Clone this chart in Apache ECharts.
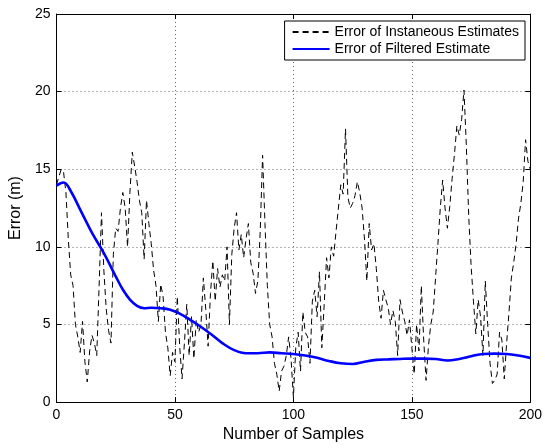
<!DOCTYPE html>
<html>
<head>
<meta charset="utf-8">
<script src="https://cdn.jsdelivr.net/npm/echarts@6/dist/echarts.min.js"></script>
<style>
html,body{margin:0;padding:0;background:#fff;}
#c{width:545px;height:448px;}
</style>
</head>
<body>
<div id="c"></div>
<script>
// Error of instantaneous estimates, one value per sample 0..200
const instantaneous = [
14.0,14.5,15.0,14.8,13.5,10.5,8.2,7.5,5.0,4.2,
3.2,5.2,2.6,1.3,3.3,4.3,3.8,3.0,7.5,12.2,
8.5,6.0,4.6,3.8,9.5,11.2,11.0,12.5,13.5,12.5,
10.0,13.5,16.1,15.2,14.2,13.0,12.2,9.2,13.0,11.5,
10.2,8.5,7.5,5.2,7.6,6.8,4.5,3.5,1.7,3.2,
2.6,6.8,3.6,1.5,3.8,6.3,3.0,5.5,2.8,5.3,
4.5,5.0,8.0,6.0,3.6,7.0,9.1,6.5,8.6,7.4,
8.2,7.8,10.0,5.0,9.5,11.2,12.2,9.8,10.8,9.3,
10.5,11.5,9.0,8.3,7.0,7.8,11.0,15.9,11.5,7.5,
5.0,4.2,2.5,1.8,0.7,2.0,2.3,3.0,4.2,2.8,
0.3,3.5,4.5,2.0,5.8,4.5,4.2,2.5,6.5,7.2,
5.5,8.4,3.5,6.3,9.3,8.0,10.0,9.4,11.0,12.5,
14.0,13.4,17.6,13.2,12.5,12.8,13.3,14.2,13.5,12.5,
10.5,7.8,11.5,9.8,10.2,8.6,6.5,5.4,7.2,6.6,
6.1,5.0,5.9,5.2,3.0,6.6,5.8,5.2,4.3,5.3,
3.5,1.8,5.0,3.3,7.5,4.0,1.4,3.6,5.0,5.8,
8.0,10.2,12.5,14.3,12.5,11.2,12.6,14.4,16.0,17.8,
17.2,18.2,20.1,16.5,12.0,8.8,6.5,4.4,6.6,5.5,
3.0,7.8,5.0,2.5,1.2,1.4,1.8,4.5,4.0,1.5,
3.8,5.8,8.0,9.0,10.2,11.8,12.8,14.2,16.9,15.5,
15.0
];
// Error of filtered estimate, read at selected samples
const filteredX = [0,3,6,10,15,20,25,28,31,34,37,40,44,48,52,56,60,65,70,75,80,85,90,95,100,105,110,115,120,125,130,135,140,145,150,155,160,165,170,175,180,185,190,195,200];
const filteredY = [13.95,14.15,13.6,12.4,10.9,9.6,8.1,7.25,6.6,6.2,6.05,6.08,6.05,5.95,5.7,5.35,4.95,4.4,3.8,3.35,3.15,3.15,3.2,3.15,3.1,3.0,2.85,2.65,2.5,2.45,2.6,2.72,2.75,2.78,2.8,2.8,2.78,2.68,2.78,2.95,3.1,3.12,3.1,3.0,2.85];
const xTicks = [0,50,100,150,200];
const yTicks = [0,5,10,15,20,25];
const seriesNames = ['Error of Instaneous Estimates','Error of Filtered Estimate'];

const font = 'Liberation Sans, Arial, Helvetica, sans-serif';
const chart = echarts.init(document.getElementById('c'), null, {renderer:'canvas'});

const gridLine = {show:true, lineStyle:{color:'#666', type:[1,3], width:1}};
const axisLineBlack = {show:true, onZero:false, lineStyle:{color:'#000', width:1}};

chart.setOption({
  animation:false,
  backgroundColor:'#fff',
  grid:{left:50, right:12, top:14, bottom:43, containLabel:false},
  legend:{
    right:20, top:21, orient:'vertical',
    backgroundColor:'#fff', borderColor:'#000', borderWidth:1, borderRadius:0,
    padding:[4,6,4,7], itemWidth:37, itemHeight:14, itemGap:3,
    itemStyle:{opacity:0, color:'rgba(0,0,0,0)', borderWidth:0},
    textStyle:{fontFamily:font, fontSize:14, color:'#000'},
    data:seriesNames
  },
  xAxis:[{
    type:'value', min:xTicks[0], max:xTicks[xTicks.length-1], interval:50,
    position:'bottom',
    name:'Number of Samples', nameLocation:'middle', nameGap:24,
    nameTextStyle:{fontFamily:font, fontSize:16, color:'#000'},
    axisLine:axisLineBlack,
    axisTick:{show:true, inside:true, length:5, lineStyle:{color:'#000'}},
    axisLabel:{fontFamily:font, fontSize:14, color:'#000', margin:6},
    splitLine:gridLine
  },{
    type:'value', min:0, max:200, interval:50, position:'top',
    axisLine:axisLineBlack,
    axisTick:{show:true, inside:true, length:5, lineStyle:{color:'#000'}},
    axisLabel:{show:false}, splitLine:{show:false}
  }],
  yAxis:[{
    type:'value', min:yTicks[0], max:yTicks[yTicks.length-1], interval:5,
    position:'left',
    name:'Error (m)', nameLocation:'middle', nameGap:30,
    nameTextStyle:{fontFamily:font, fontSize:16, color:'#000'},
    axisLine:axisLineBlack,
    axisTick:{show:true, inside:true, length:5, lineStyle:{color:'#000'}},
    axisLabel:{fontFamily:font, fontSize:14, color:'#000', margin:6},
    splitLine:gridLine
  },{
    type:'value', min:0, max:25, interval:5, position:'right',
    axisLine:axisLineBlack,
    axisTick:{show:true, inside:true, length:5, lineStyle:{color:'#000'}},
    axisLabel:{show:false}, splitLine:{show:false}
  }],
  series:[{
    name:seriesNames[0], type:'line', xAxisIndex:0, yAxisIndex:0,
    data:instantaneous.map((v,i)=>[i,v]),
    symbol:'none', showSymbol:false,
    lineStyle:{color:'#000', width:1, type:[6,4]},
    itemStyle:{color:'#000'}, z:2
  },{
    name:seriesNames[1], type:'line', xAxisIndex:0, yAxisIndex:0,
    data:filteredX.map((x,i)=>[x, filteredY[i]]),
    symbol:'none', showSymbol:false, smooth:0.4,
    lineStyle:{color:'#0000ff', width:2.6},
    itemStyle:{color:'#0000ff'}, z:3
  }]
});
</script>
</body>
</html>
